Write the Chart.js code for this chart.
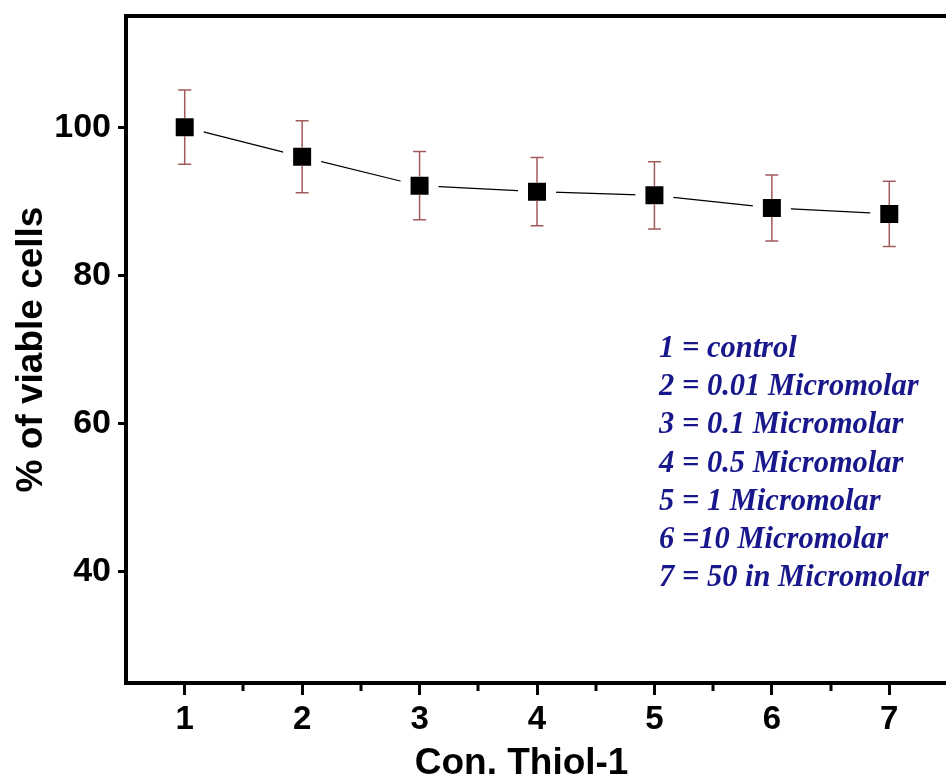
<!DOCTYPE html>
<html>
<head>
<meta charset="utf-8">
<script src="https://cdn.jsdelivr.net/npm/chart.js@4.4.0/dist/chart.umd.min.js"></script>
<style>
  html, body { margin: 0; padding: 0; background: #fff; overflow: hidden; }
  #wrap { width: 960px; height: 778px; }
</style>
</head>
<body>
<div id="wrap"><canvas id="myChart" width="960" height="778"></canvas></div>
<script>
// concentration index (x) and % viable cells (y) with error
const conc = [1, 2, 3, 4, 5, 6, 7];
const viable = [100, 96.0, 92.1, 91.3, 90.8, 89.1, 88.3];
const errs = [5.0, 4.85, 4.6, 4.6, 4.55, 4.45, 4.4];
const yTicks = [40, 60, 80, 100];
const minorX = [1.5, 2.5, 3.5, 4.5, 5.5, 6.5];
const notes = [
  '1 = control',
  '2 = 0.01 Micromolar',
  '3 = 0.1 Micromolar',
  '4 = 0.5 Micromolar',
  '5 = 1 Micromolar',
  '6 =10 Micromolar',
  '7 = 50 in Micromolar'
];

const ctx = document.getElementById('myChart');

// top + right frame lines
const frame = {
  id: 'frame',
  afterDraw(chart) {
    const a = chart.chartArea, c = chart.ctx;
    c.save();
    c.strokeStyle = '#000';
    c.lineWidth = 4;
    c.lineCap = 'square';
    c.beginPath();
    c.moveTo(a.left, a.top);
    c.lineTo(a.right, a.top);
    c.lineTo(a.right, a.bottom);
    c.stroke();
    c.restore();
  }
};

// small ticks between the numbers on x
const minorTicks = {
  id: 'minorTicks',
  afterDraw(chart) {
    const x = chart.scales.x, c = chart.ctx, b = chart.chartArea.bottom;
    c.save();
    c.strokeStyle = '#000';
    c.lineWidth = 3;
    minorX.forEach(v => {
      const px = Math.round(x.getPixelForValue(v));
      c.beginPath();
      c.moveTo(px, b);
      c.lineTo(px, b + 8);
      c.stroke();
    });
    c.restore();
  }
};

const errorBars = {
  id: 'errorBars',
  afterDatasetsDraw(chart) {
    const x = chart.scales.x, y = chart.scales.y, c = chart.ctx;
    c.save();
    c.strokeStyle = '#a45a5a';
    c.lineWidth = 1.5;
    conc.forEach((v, i) => {
      const px = x.getPixelForValue(v);
      const pc = y.getPixelForValue(viable[i]);
      const pt = y.getPixelForValue(viable[i] + errs[i]);
      const pb = y.getPixelForValue(viable[i] - errs[i]);
      c.beginPath();
      c.moveTo(px, pc - 9); c.lineTo(px, pt);
      c.moveTo(px, pc + 9); c.lineTo(px, pb);
      c.moveTo(px - 6.5, pt); c.lineTo(px + 6.5, pt);
      c.moveTo(px - 6.5, pb); c.lineTo(px + 6.5, pb);
      c.stroke();
    });
    c.restore();
  }
};

const noteText = {
  id: 'noteText',
  afterDraw(chart) {
    const c = chart.ctx;
    c.save();
    c.fillStyle = '#18188c';
    c.font = 'bold italic 30.5px "Liberation Serif"';
    c.textBaseline = 'alphabetic';
    notes.forEach((t, i) => {
      c.fillText(t, 659, 357 + i * 38.2);
    });
    c.restore();
  }
};

new Chart(ctx, {
  type: 'scatter',
  data: {
    datasets: [{
      label: 'viable',
      data: conc.map((c, i) => ({ x: c, y: viable[i] })),
      showLine: true,
      borderColor: '#000',
      borderWidth: 1.2,
      pointStyle: 'rect',
      pointRadius: 19.8,
      pointBackgroundColor: '#000',
      pointBorderColor: '#fff',
      pointBorderWidth: 10
    }]
  },
  options: {
    responsive: false,
    animation: false,
    events: [],
    layout: { autoPadding: false, padding: { left: 0, top: 16, right: 12, bottom: 0 } },
    plugins: { legend: { display: false }, tooltip: { enabled: false } },
    scales: {
      x: {
        type: 'linear',
        min: 0.5,
        max: 7.5,
        afterBuildTicks: s => { s.ticks = conc.map(v => ({ value: v })); },
        afterFit: s => { s.height = 95; s.paddingLeft = 0; s.paddingRight = 0; },
        border: { display: true, color: '#000', width: 4 },
        grid: { drawOnChartArea: false, drawTicks: true, tickLength: 12, tickWidth: 3, tickColor: '#000' },
        ticks: { color: '#000', padding: 5, font: { family: 'Liberation Sans', size: 33, weight: 'bold' } },
        title: {
          display: true,
          text: 'Con. Thiol-1   ',
          color: '#000',
          padding: { top: -8, bottom: -8 },
          font: { family: 'Liberation Sans', size: 37, weight: 'bold' }
        }
      },
      y: {
        min: 25,
        max: 115,
        afterBuildTicks: s => { s.ticks = yTicks.map(v => ({ value: v })); },
        afterFit: s => { s.width = 126; s.paddingTop = 0; s.paddingBottom = 0; },
        border: { display: true, color: '#000', width: 4 },
        grid: { drawOnChartArea: false, drawTicks: true, tickLength: 8, tickWidth: 3, tickColor: '#000' },
        ticks: { color: '#000', padding: 7, font: { family: 'Liberation Sans', size: 34, weight: 'bold' } },
        title: {
          display: true,
          text: '% of viable cells',
          color: '#000',
          padding: { top: 10, bottom: 0 },
          font: { family: 'Liberation Sans', size: 37, weight: 'bold' }
        }
      }
    }
  },
  plugins: [frame, minorTicks, errorBars, noteText]
});
</script>
</body>
</html>
